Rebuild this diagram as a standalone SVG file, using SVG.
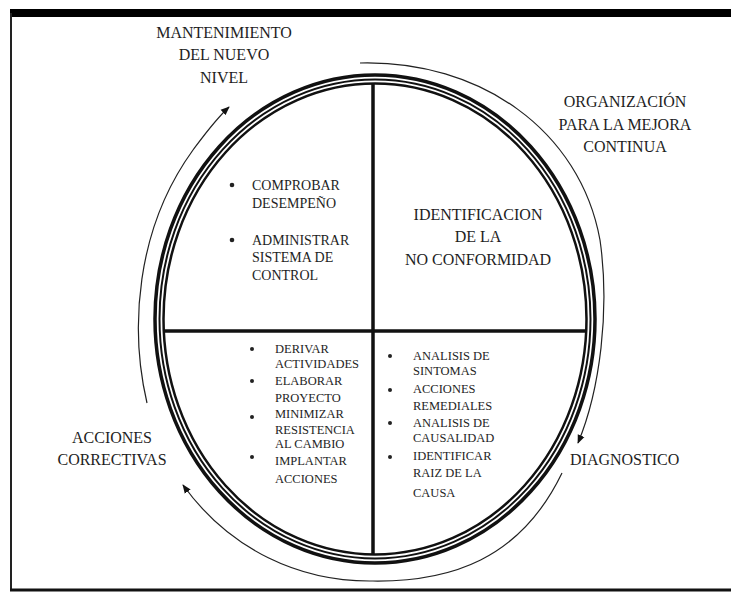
<svg xmlns="http://www.w3.org/2000/svg" width="731" height="593" viewBox="0 0 731 593">
<style>
.t{font-family:"Liberation Serif","DejaVu Serif",serif;fill:#1e1e1e;}
.l{font-size:16px;text-anchor:middle;}
.s{font-size:14px;}
.m{font-size:12.5px;}
.ring{fill:none;stroke:#111;}
.div{stroke:#111;stroke-width:3.5;}
.arc{fill:none;stroke:#222;stroke-width:1.2;marker-end:url(#ah);}
.b{fill:#222;}
</style>
<defs>
<marker id="ah" viewBox="0 0 10 10" refX="9" refY="5" markerWidth="9" markerHeight="9" markerUnits="userSpaceOnUse" orient="auto">
<path d="M0,1 L10,5 L0,9 Z" fill="#111"/>
</marker>
</defs>
<rect width="731" height="593" fill="#fff"/>
<g id="frame">
<rect x="10" y="9" width="721" height="8" fill="#000"/>
<line x1="11" y1="13" x2="11" y2="590" stroke="#222" stroke-width="2"/>
<line x1="10" y1="590" x2="731" y2="590" stroke="#111" stroke-width="3"/>
</g>
<g id="circle">
<ellipse class="ring" cx="375" cy="319" rx="220" ry="244" stroke-width="3.5"/>
<ellipse class="ring" cx="375" cy="319" rx="215.5" ry="239.5" stroke-width="2"/>
<ellipse class="ring" cx="375" cy="319" rx="211.5" ry="235.5" stroke-width="2.5"/>
<line class="div" x1="373" y1="84" x2="373" y2="554"/>
<line class="div" x1="164" y1="331" x2="586" y2="331"/>
</g>
<g id="connectors">
<path class="arc" d="M147,403 C130,330 135,230 193,150 C205,134 215,120 229,107"/>
<path class="arc" d="M360,63 C480,60 580,130 600,240 C610,310 600,390 578,443"/>
<path class="arc" d="M562,473 C520,560 450,582 373,581 C300,582 230,550 183,485"/>
</g>
<g id="mantenimiento">
<text class="t l" x="224" y="38">MANTENIMIENTO</text>
<text class="t l" x="224" y="60">DEL NUEVO</text>
<text class="t l" x="224" y="83">NIVEL</text>
</g>
<g id="organizacion">
<text class="t l" x="625" y="107">ORGANIZACIÓN</text>
<text class="t l" x="625" y="130">PARA LA MEJORA</text>
<text class="t l" x="625" y="152">CONTINUA</text>
</g>
<g id="acciones-correctivas">
<text class="t l" x="112" y="443">ACCIONES</text>
<text class="t l" x="112" y="465">CORRECTIVAS</text>
</g>
<g id="diagnostico">
<text class="t" x="570" y="465" font-size="16">DIAGNOSTICO</text>
</g>
<g id="q-top-left">
<circle class="b" cx="232" cy="185" r="2.3"/>
<text class="t s" x="252" y="190">COMPROBAR</text>
<text class="t s" x="252" y="208">DESEMPEÑO</text>
<circle class="b" cx="232" cy="240" r="2.3"/>
<text class="t s" x="252" y="245">ADMINISTRAR</text>
<text class="t s" x="252" y="262">SISTEMA DE</text>
<text class="t s" x="252" y="280">CONTROL</text>
</g>
<g id="q-top-right">
<text class="t l" x="478" y="220">IDENTIFICACION</text>
<text class="t l" x="478" y="242">DE LA</text>
<text class="t l" x="478" y="265">NO CONFORMIDAD</text>
</g>
<g id="q-bottom-left">
<circle class="b" cx="252" cy="349" r="2"/>
<text class="t m" x="275" y="353">DERIVAR</text>
<text class="t m" x="275" y="368">ACTIVIDADES</text>
<circle class="b" cx="252" cy="381" r="2"/>
<text class="t m" x="275" y="385">ELABORAR</text>
<text class="t m" x="275" y="402">PROYECTO</text>
<circle class="b" cx="252" cy="417" r="2"/>
<text class="t m" x="275" y="418">MINIMIZAR</text>
<text class="t m" x="275" y="434">RESISTENCIA</text>
<text class="t m" x="275" y="448">AL CAMBIO</text>
<circle class="b" cx="252" cy="457" r="2"/>
<text class="t m" x="275" y="465">IMPLANTAR</text>
<text class="t m" x="275" y="483">ACCIONES</text>
</g>
<g id="q-bottom-right">
<circle class="b" cx="390" cy="356" r="2"/>
<text class="t m" x="413" y="360">ANALISIS DE</text>
<text class="t m" x="413" y="375">SINTOMAS</text>
<circle class="b" cx="390" cy="390" r="2"/>
<text class="t m" x="413" y="393">ACCIONES</text>
<text class="t m" x="413" y="410">REMEDIALES</text>
<circle class="b" cx="390" cy="423" r="2"/>
<text class="t m" x="413" y="427">ANALISIS DE</text>
<text class="t m" x="413" y="442">CAUSALIDAD</text>
<circle class="b" cx="390" cy="457" r="2"/>
<text class="t m" x="413" y="460">IDENTIFICAR</text>
<text class="t m" x="413" y="477">RAIZ DE LA</text>
<text class="t m" x="413" y="497">CAUSA</text>
</g>
</svg>
